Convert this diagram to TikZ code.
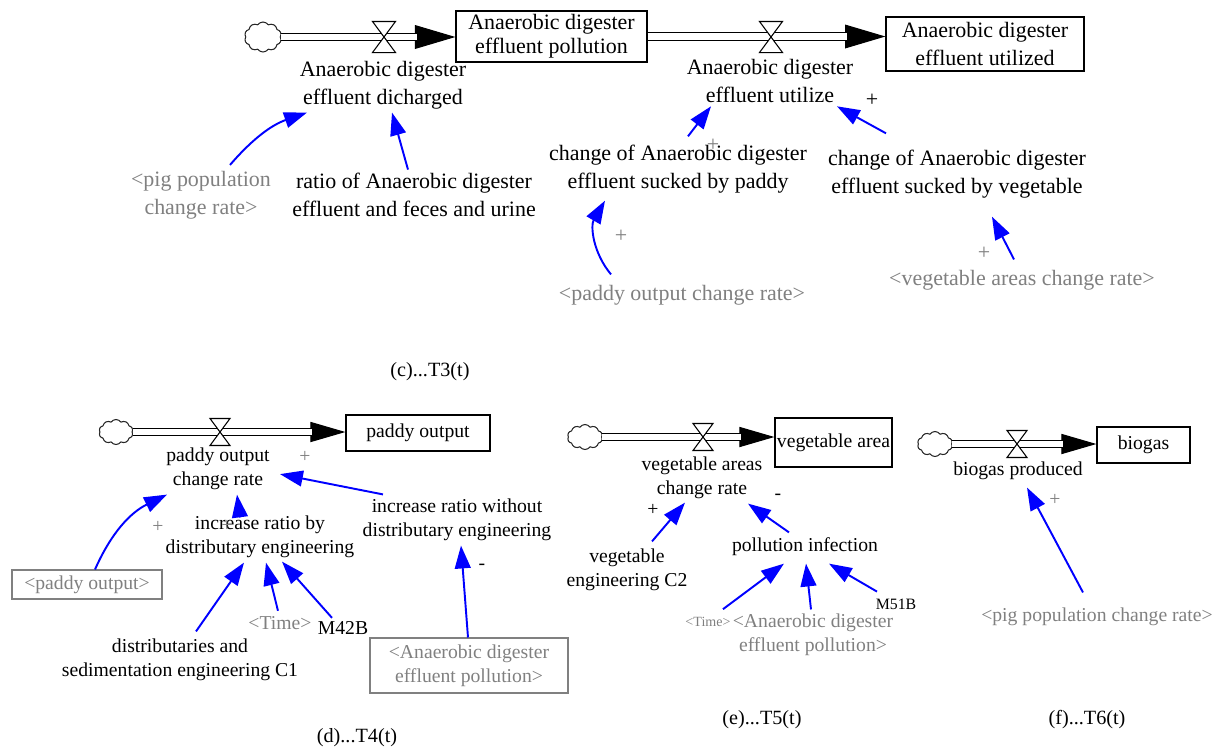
\documentclass[tikz,border=0pt]{standalone}
\usepackage{fontspec}
\setmainfont{Liberation Serif}
\usepackage{xcolor}
\usetikzlibrary{shapes.symbols,arrows.meta,calc}
\definecolor{linkblue}{RGB}{0,0,255}
\definecolor{ghostgray}{RGB}{128,128,128}

\tikzset{
  toptext/.style={font=\fontsize{12.5}{15.9}\selectfont},
  lowtext/.style={font=\fontsize{11.2}{13.7}\selectfont},
  weetext/.style={font=\fontsize{8}{9.5}\selectfont},
  lbl/.style={align=center, inner sep=1pt},
  ghost/.style={text=ghostgray},
  stock/.style={draw, line width=0.7pt, align=center, inner sep=1pt},
  ghostbox/.style={draw=ghostgray, line width=0.6pt, text=ghostgray, align=center, inner sep=1pt},
  source/.style={cloud, draw=black!85, cloud puffs=10, cloud puff arc=110, aspect=1.4, inner sep=0pt, line width=0.6pt},
  pipe/.style={double, double distance=3.6pt, line width=0.6pt},
  headbig/.style={line width=0.6pt, -{Triangle[length=23pt,width=13.5pt]}},
  headsmall/.style={line width=0.6pt, -{Triangle[length=20pt,width=11.5pt]}},
  link/.style={linkblue, line width=1.1pt, -{Triangle[length=13pt,width=9pt]}},
  valve/.pic={\draw[fill=white, line width=0.6pt] (-10,-13.5) -- (10,-13.5) -- (-10,13.5) -- (10,13.5) -- cycle;}
}

\begin{document}
\begin{tikzpicture}[x=0.02cm, y=-0.02cm]
    \useasboundingbox (0,0) rectangle (1221,748);

    % (c) Stocks
    \node[source, minimum width=0.74cm, minimum height=0.6cm] (cA) at (263,37) {};
    \node[stock, minimum width=3.82cm, minimum height=1.02cm, font=\fontsize{12.5}{13.7}\selectfont] (sPoll) at (551.5,36.5) {Anaerobic digester\\effluent pollution};
    \node[stock, minimum width=3.96cm, minimum height=1.08cm, font=\fontsize{12.5}{15.9}\selectfont] (sUtil) at (985,44) {Anaerobic digester\\effluent utilized};

    % (c) Flows
    \draw[headbig] (cA.east) -- (cA.east -| sPoll.west);
    \draw[pipe, shorten >=22pt] (cA.east) -- (cA.east -| sPoll.west);
    \draw[headbig] (sPoll.east) -- (sPoll.east -| sUtil.west);
    \draw[pipe, shorten >=22pt] (sPoll.east) -- (sPoll.east -| sUtil.west);
    \pic[scale=1.15] at (384,37) {valve};
    \pic[scale=1.15] at (771,37) {valve};

    % (c) Variables
    \node[lbl, toptext] (fDis) at (383,85) {Anaerobic digester\\effluent dicharged};
    \node[lbl, toptext] (fUse) at (770,81) {Anaerobic digester\\effluent utilize};
    \node[lbl, toptext, ghost] (pigA) at (201,195) {<pig population\\change rate>};
    \node[lbl, toptext] (ratio) at (414,195) {ratio of Anaerobic digester\\effluent and feces and urine};
    \node[lbl, toptext] (sPaddy) at (678,169) {change of Anaerobic digester\\effluent sucked by paddy};
    \node[lbl, toptext] (sVeg) at (957,174.5) {change of Anaerobic digester\\effluent sucked by vegetable};
    \node[lbl, toptext, ghost] (pOut) at (682,295) {<paddy output change rate>};
    \node[lbl, toptext, ghost] (vArea) at (1022,280) {<vegetable areas change rate>};
    \node[toptext, inner sep=0pt] (plusA) at (872,100) {+};
    \node[toptext, ghost, inner sep=0pt] (plusB) at (713,145) {+};
    \node[toptext, ghost, inner sep=0pt] (plusC) at (621,236) {+};
    \node[toptext, ghost, inner sep=0pt] (plusD) at (984,253) {+};
    \node[lowtext, font=\fontsize{11.5}{13}\selectfont] (capC) at (430,372) {(c)...T3(t)};

    % (c) Links
    \draw[link] ($(pigA.north)+(29,-4)$) to[bend left=15] ($(fDis.south)+(-76,1.5)$);
    \draw[link] ($(ratio.north)+(-6,-1.5)$) -- ($(fDis.south)+(9,1.5)$);
    \draw[link] ($(sPaddy.north)+(10,-6.5)$) -- ($(fUse.south)+(-59,1.5)$);
    \draw[link] ($(sVeg.north)+(-71,-15)$) -- ($(fUse.south)+(67,1.5)$);
    \draw[link] ($(pOut.north)+(-71,-8.5)$) to[bend left=35] ($(sPaddy.south)+(-73,5.5)$);
    \draw[link] ($(vArea.north)+(-8,-8.5)$) -- ($(sVeg.south)+(35,16)$);

    % (d) paddy output
    \node[source, minimum width=0.68cm, minimum height=0.5cm] (cB) at (116,432) {};
    \node[stock, lowtext, minimum width=2.88cm, minimum height=0.72cm] (sPad) at (418,433) {paddy output};
    \draw[headsmall] (cB.east) -- (cB.east -| sPad.west);
    \draw[pipe, shorten >=19pt] (cB.east) -- (cB.east -| sPad.west);
    \pic at (220,432) {valve};

    \node[lbl, lowtext] (fPad) at (218,469) {paddy output\\change rate};
    \node[lbl, lowtext] (incBy) at (260,536.5) {increase ratio by\\distributary engineering};
    \node[lbl, lowtext] (incWo) at (457,519.5) {increase ratio without\\distributary engineering};
    \node[ghostbox, lowtext, minimum width=3.0cm, minimum height=0.58cm] (padOut) at (87,584.5) {<paddy output>};
    \node[lbl, lowtext] (dist) at (180,659.5) {distributaries and\\sedimentation engineering C1};
    \node[lbl, lowtext, ghost] (timeD) at (280,623) {<Time>};
    \node[lbl, lowtext] (m42) at (343,628) {M42B};
    \node[ghostbox, lowtext, minimum width=3.96cm, minimum height=1.1cm] (adpD) at (469,665.5) {<Anaerobic digester\\effluent pollution>};
    \node[lowtext, ghost, inner sep=0pt] (plusE) at (305,457) {+};
    \node[lowtext, ghost, inner sep=0pt] (plusF) at (227,526) {+};
    \node[lowtext, ghost, inner sep=0pt] (plusG) at (158,527) {+};
    \node[lowtext, inner sep=0pt] (minusA) at (482,567) {-};
    \node[lowtext, font=\fontsize{11.5}{13}\selectfont] (capD) at (357,738) {(d)...T4(t)};

    \draw[link] ($(incWo.north)+(-74,-2)$) -- ($(fPad.south)+(62,-18)$);
    \draw[link] ($(incBy.north)+(-20,4)$) -- ($(fPad.south)+(19,2.5)$);
    \draw[link] ($(padOut.north)+(8,0)$) to[bend left=20] ($(fPad.south)+(-51,2.5)$);
    \draw[link] ($(dist.north)+(16,-5)$) -- ($(incBy.south)+(-16,3)$);
    \draw[link] ($(timeD.north)+(-2,-3.5)$) -- ($(incBy.south)+(6,3)$);
    \draw[link] ($(m42.north)+(-11,-1.5)$) -- ($(incBy.south)+(22,2)$);
    \draw[link] ($(adpD.north)+(-1,0)$) -- ($(incWo.south)+(4,3)$);

    % (e) vegetable area
    \node[source, minimum width=0.7cm, minimum height=0.5cm] (cC) at (585,437) {};
    \node[stock, lowtext, minimum width=2.34cm, minimum height=0.98cm] (sVegA) at (833.5,442.5) {vegetable area};
    \draw[headsmall] (cC.east) -- (cC.east -| sVegA.west);
    \draw[pipe, shorten >=19pt] (cC.east) -- (cC.east -| sVegA.west);
    \pic at (703,437) {valve};

    \node[lbl, lowtext] (fVeg) at (702,477.5) {vegetable areas\\change rate};
    \node[lbl, lowtext] (c2) at (627,569.5) {vegetable\\engineering C2};
    \node[lbl, lowtext] (poll) at (805,547) {pollution infection};
    \node[lbl, weetext, ghost] (timeE) at (708,622) {<Time>};
    \node[lbl, lowtext, ghost] (adpE) at (813,635) {<Anaerobic digester\\effluent pollution>};
    \node[lbl, font=\fontsize{9}{10}\selectfont] (m51) at (896,604) {M51B};
    \node[lowtext, inner sep=0pt] (plusH) at (653,510) {+};
    \node[lowtext, inner sep=0pt] (minusB) at (778,497) {-};
    \node[lowtext, font=\fontsize{11.5}{13}\selectfont] (capE) at (762,720) {(e)...T5(t)};

    \draw[link] ($(c2.north)+(25,-5)$) -- ($(fVeg.south)+(-17,2)$);
    \draw[link] ($(poll.north)+(-16,-3.5)$) -- ($(fVeg.south)+(46,3)$);
    \draw[link] ($(timeE.north)+(15,-6)$) -- ($(poll.south)+(-21,5.5)$);
    \draw[link] ($(adpE.north)+(-2,-2.5)$) -- ($(poll.south)+(1,5.5)$);
    \draw[link] ($(m51.north)+(-19,-5)$) -- ($(poll.south)+(24,5.5)$);

    % (f) biogas
    \node[source, minimum width=0.7cm, minimum height=0.5cm] (cD) at (935,444) {};
    \node[stock, lowtext, minimum width=1.86cm, minimum height=0.72cm] (sBio) at (1143.5,445) {biogas};
    \draw[headsmall] (cD.east) -- (cD.east -| sBio.west);
    \draw[pipe, shorten >=19pt] (cD.east) -- (cD.east -| sBio.west);
    \pic at (1017,444) {valve};

    \node[lbl, lowtext] (fBio) at (1018,471) {biogas produced};
    \node[lbl, lowtext, ghost] (pigF) at (1097,617) {<pig population change rate>};
    \node[lowtext, ghost, inner sep=0pt] (plusI) at (1055,500) {+};
    \node[lowtext, font=\fontsize{11.5}{13}\selectfont] (capF) at (1087,720) {(f)...T6(t)};

    \draw[link] ($(pigF.north)+(-14,-13.5)$) -- ($(fBio.south)+(9,5.5)$);
\end{tikzpicture}
\end{document}
